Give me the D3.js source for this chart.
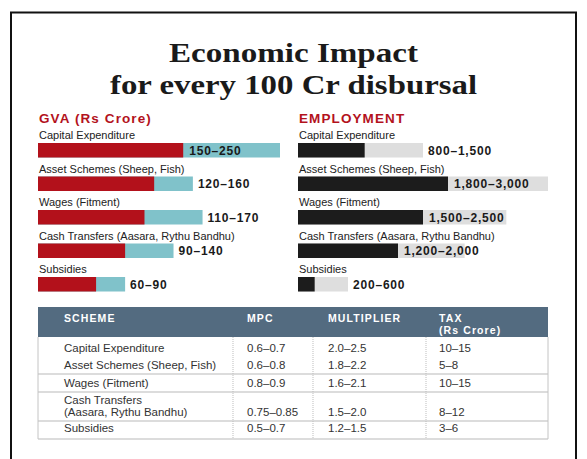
<!DOCTYPE html>
<html>
<head>
<meta charset="utf-8">
<script src="https://cdn.jsdelivr.net/npm/d3@7"></script>
<style>
  body { margin: 0; background: #fff; }
  svg { display: block; }
</style>
</head>
<body>
<div id="chart-container"></div>
<script>
// Danh mục các chương trình
const schemes = [
    "Capital Expenditure",
    "Asset Schemes (Sheep, Fish)",
    "Wages (Fitment)",
    "Cash Transfers (Aasara, Rythu Bandhu)",
    "Subsidies"
];

// GVA (Rs Crore): khoảng thấp - cao
const gvaLow = [150, 120, 110, 90, 60];
const gvaHigh = [250, 160, 170, 140, 90];

// Việc làm: khoảng thấp - cao
const empLow = [800, 1800, 1500, 1200, 200];
const empHigh = [1500, 3000, 2500, 2000, 600];

// Bảng
const tableHeaders = ["SCHEME", "MPC", "MULTIPLIER", "TAX|(Rs Crore)"];
const tableSchemes = [
    "Capital Expenditure",
    "Asset Schemes (Sheep, Fish)",
    "Wages (Fitment)",
    "Cash Transfers|(Aasara, Rythu Bandhu)",
    "Subsidies"
];
const mpc = ["0.6–0.7", "0.6–0.8", "0.8–0.9", "0.75–0.85", "0.5–0.7"];
const multiplier = ["2.0–2.5", "1.8–2.2", "1.6–2.1", "1.5–2.0", "1.2–1.5"];
const tax = ["10–15", "5–8", "10–15", "8–12", "3–6"];

const width = 587;
const height = 459;
const sans = "'Liberation Sans', Arial, Helvetica, sans-serif";

const svg = d3.select("#chart-container")
    .append("svg")
    .attr("width", width)
    .attr("height", height)
    .style("font-family", sans);

// Khung viền
svg.append("path")
    .attr("d", `M11,${height + 2} V12.5 H576 V${height + 2}`)
    .attr("fill", "none")
    .attr("stroke", "#111")
    .attr("stroke-width", 2);

// Tiêu đề (2 dòng)
const titleLines = [
    { t: "Economic Impact", y: 62, w: 249 },
    { t: "for every 100 Cr disbursal", y: 94, w: 367 }
];
svg.selectAll(".title")
    .data(titleLines)
    .enter()
    .append("text")
    .attr("class", "title")
    .attr("x", 293.5)
    .attr("y", d => d.y)
    .attr("text-anchor", "middle")
    .attr("textLength", d => d.w)
    .attr("lengthAdjust", "spacingAndGlyphs")
    .style("font-family", "'Liberation Serif', 'Times New Roman', serif")
    .style("font-weight", "bold")
    .style("font-size", "28px")
    .attr("fill", "#1a1a1a")
    .text(d => d.t);

// Thang đo theo hàng (dùng chung cho 2 biểu đồ)
const yRow = d3.scaleBand()
    .domain(schemes)
    .range([130, 130 + 33.5 * schemes.length]);

function drawPanel(opts) {
    const { x0, heading, low, high, xScale, darkColor, lightColor, fmt } = opts;
    const g = svg.append("g");
    const rows = schemes.map((s, i) => ({ s, lo: low[i], hi: high[i] }));

    g.append("text")
        .attr("x", x0 + 1)
        .attr("y", 123)
        .attr("fill", "#b3121c")
        .style("font-weight", "bold")
        .style("font-size", "13.5px")
        .style("letter-spacing", "1.1px")
        .text(heading);

    // Nhãn tên chương trình
    g.selectAll(".name")
        .data(rows)
        .enter()
        .append("text")
        .attr("x", x0 + 1)
        .attr("y", d => yRow(d.s) + 9)
        .attr("fill", "#222")
        .style("font-size", "11px")
        .text(d => d.s);

    // Cột nhạt (giá trị cao)
    g.selectAll(".hi")
        .data(rows)
        .enter()
        .append("rect")
        .attr("x", xScale(0))
        .attr("y", d => yRow(d.s) + 13)
        .attr("width", d => xScale(d.hi) - xScale(0))
        .attr("height", 14.5)
        .attr("fill", lightColor);

    // Cột đậm (giá trị thấp)
    g.selectAll(".lo")
        .data(rows)
        .enter()
        .append("rect")
        .attr("x", xScale(0))
        .attr("y", d => yRow(d.s) + 13)
        .attr("width", d => xScale(d.lo) - xScale(0))
        .attr("height", 14.5)
        .attr("fill", darkColor);

    // Nhãn khoảng giá trị
    g.selectAll(".val")
        .data(rows)
        .enter()
        .append("text")
        .attr("x", d => (xScale(d.hi) - xScale(d.lo) >= 60) ? xScale(d.lo) + 6 : xScale(d.hi) + 5)
        .attr("y", d => yRow(d.s) + 24.5)
        .attr("fill", "#1a1a1a")
        .style("font-weight", "bold")
        .style("font-size", "12px")
        .style("letter-spacing", "0.8px")
        .text(d => `${fmt(d.lo)}–${fmt(d.hi)}`);
}

drawPanel({
    x0: 38,
    heading: "GVA (Rs Crore)",
    low: gvaLow,
    high: gvaHigh,
    xScale: d3.scaleLinear().domain([0, 250]).range([38, 280]),
    darkColor: "#b3111b",
    lightColor: "#80c2ca",
    fmt: d3.format("d")
});

drawPanel({
    x0: 298,
    heading: "EMPLOYMENT",
    low: empLow,
    high: empHigh,
    xScale: d3.scaleLinear().domain([0, 3000]).range([298, 548]),
    darkColor: "#1c1c1c",
    lightColor: "#dedede",
    fmt: d3.format(",")
});

// ----- Bảng -----
const tLeft = 38, tRight = 548;
const colX = [64, 247, 328, 439];
const dividers = [233, 313, 426];
const headTop = 307, headBottom = 337;
const rowBase = [[352], [369], [387], [404, 416], [432]];
const hLines = [374, 392, 421, 439];

svg.append("rect")
    .attr("x", tLeft)
    .attr("y", headTop)
    .attr("width", tRight - tLeft)
    .attr("height", headBottom - headTop)
    .attr("fill", "#536b80");

tableHeaders.forEach((h, i) => {
    const parts = h.split("|");
    parts.forEach((p, j) => {
        svg.append("text")
            .attr("x", colX[i])
            .attr("y", 322 + j * 11.5)
            .attr("fill", "#fff")
            .style("font-weight", "bold")
            .style("font-size", "10.5px")
            .style("letter-spacing", "1.1px")
            .text(p);
    });
});

// Đường kẻ bảng
svg.selectAll(".hline")
    .data(hLines)
    .enter()
    .append("line")
    .attr("x1", tLeft).attr("x2", tRight)
    .attr("y1", d => d).attr("y2", d => d)
    .attr("stroke", "#b9b9b9")
    .attr("stroke-width", 1.2);

[tLeft, tRight].forEach(x => {
    svg.append("line")
        .attr("x1", x).attr("x2", x)
        .attr("y1", headBottom).attr("y2", 439)
        .attr("stroke", "#c4c4c4")
        .attr("stroke-width", 1);
});

svg.selectAll(".vline")
    .data(dividers)
    .enter()
    .append("line")
    .attr("x1", d => d).attr("x2", d => d)
    .attr("y1", headBottom).attr("y2", 439)
    .attr("stroke", "#bdbdbd")
    .attr("stroke-width", 1)
    .attr("stroke-dasharray", "1,1");

const cellText = (x, y, t) => svg.append("text")
    .attr("x", x)
    .attr("y", y)
    .attr("fill", "#333")
    .style("font-size", "11.5px")
    .text(t);

tableSchemes.forEach((s, i) => {
    const lines = s.split("|");
    lines.forEach((l, j) => cellText(colX[0], rowBase[i][j], l));
    const last = rowBase[i][rowBase[i].length - 1];
    cellText(colX[1], last, mpc[i]);
    cellText(colX[2], last, multiplier[i]);
    cellText(colX[3], last, tax[i]);
});
</script>
</body>
</html>
